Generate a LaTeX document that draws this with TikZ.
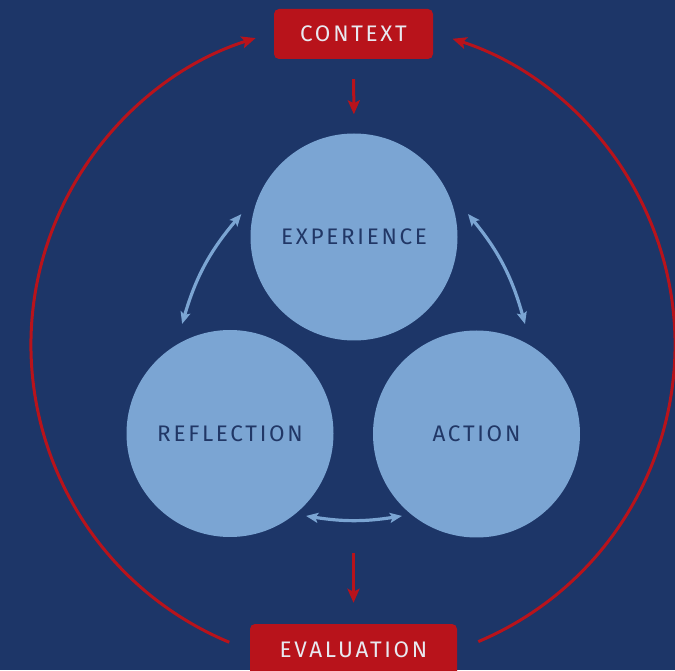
\documentclass[tikz,border=0pt]{standalone}
\usepackage{fontspec}
\newfontfamily\lblfont[LetterSpace=12]{Fira Sans}
\usetikzlibrary{arrows.meta,calc}
\definecolor{bgnavy}{RGB}{29,54,104}
\definecolor{circblue}{RGB}{123,165,211}
\definecolor{boxred}{RGB}{184,19,27}
\definecolor{boxtext}{RGB}{232,233,240}
\definecolor{circtext}{RGB}{33,55,102}
\begin{document}
\begin{tikzpicture}[x=1pt,y=1pt,
  circ/.style={circle,fill=circblue,minimum size=207pt,inner sep=0pt,
    text=circtext,font=\lblfont\fontsize{22.5}{26}\selectfont},
  redbox/.style={fill=boxred,rounded corners=5pt,inner sep=0pt,
    text=boxtext,font=\lblfont\fontsize{22.5}{26}\selectfont},
  redarrow/.style={draw=boxred,line width=3pt,-{Stealth[length=14pt,width=12pt,inset=3pt]}},
  bluearrow/.style={draw=circblue,line width=3.2pt,{Stealth[length=12pt,width=10pt,inset=2.5pt]}-{Stealth[length=12pt,width=10pt,inset=2.5pt]}}]
\useasboundingbox (0,0) rectangle (675,670);
\clip (0,0) rectangle (675,670);
\fill[bgnavy] (0,0) rectangle (675,670);
% nodes
\node[redbox,minimum width=159pt,minimum height=50pt] (context) at (353.5,636) {CONTEXT};
\node[redbox,minimum width=207pt,minimum height=54pt] (eval) at (353.5,19) {};
\node[text=boxtext,font=\lblfont\fontsize{22.5}{26}\selectfont] (evaltext) at (353.5,20) {EVALUATION};
\node[circ] (exp) at (354,433) {EXPERIENCE};
\node[circ] (ref) at (230,236.5) {REFLECTION};
\node[circ] (act) at (476.5,236) {ACTION};
% big cycle
\coordinate (cyc) at (353,325);
\draw[redarrow] (cyc) ++(247.4:322) arc[start angle=247.4,end angle=107.6,radius=322];
\draw[redarrow] (cyc) ++(-67.1:322) arc[start angle=-67.1,end angle=72,radius=322];
% down arrows
\draw[redarrow,shorten <=20pt,shorten >=19pt] (context.south) -- (exp.north);
\coordinate (midlow) at (353.5,117);
\draw[redarrow,shorten >=21pt] (midlow) -- (eval.north);
% blue arrows
\coordinate (e1) at ($(exp)+(168.5:115)$);
\coordinate (r1) at ($(ref)+(113.6:119.6)$);
\coordinate (e2) at ($(exp)+(11.4:116.3)$);
\coordinate (a2) at ($(act)+(66.2:120.2)$);
\coordinate (r3) at ($(ref)+(-47.3:112.2)$);
\coordinate (a3) at ($(act)+(-132.3:110.8)$);
\draw[bluearrow] (e1) to[bend right=12] (r1);
\draw[bluearrow] (e2) to[bend left=12] (a2);
\draw[bluearrow] (r3) to[bend right=9] (a3);
\end{tikzpicture}
\end{document}
